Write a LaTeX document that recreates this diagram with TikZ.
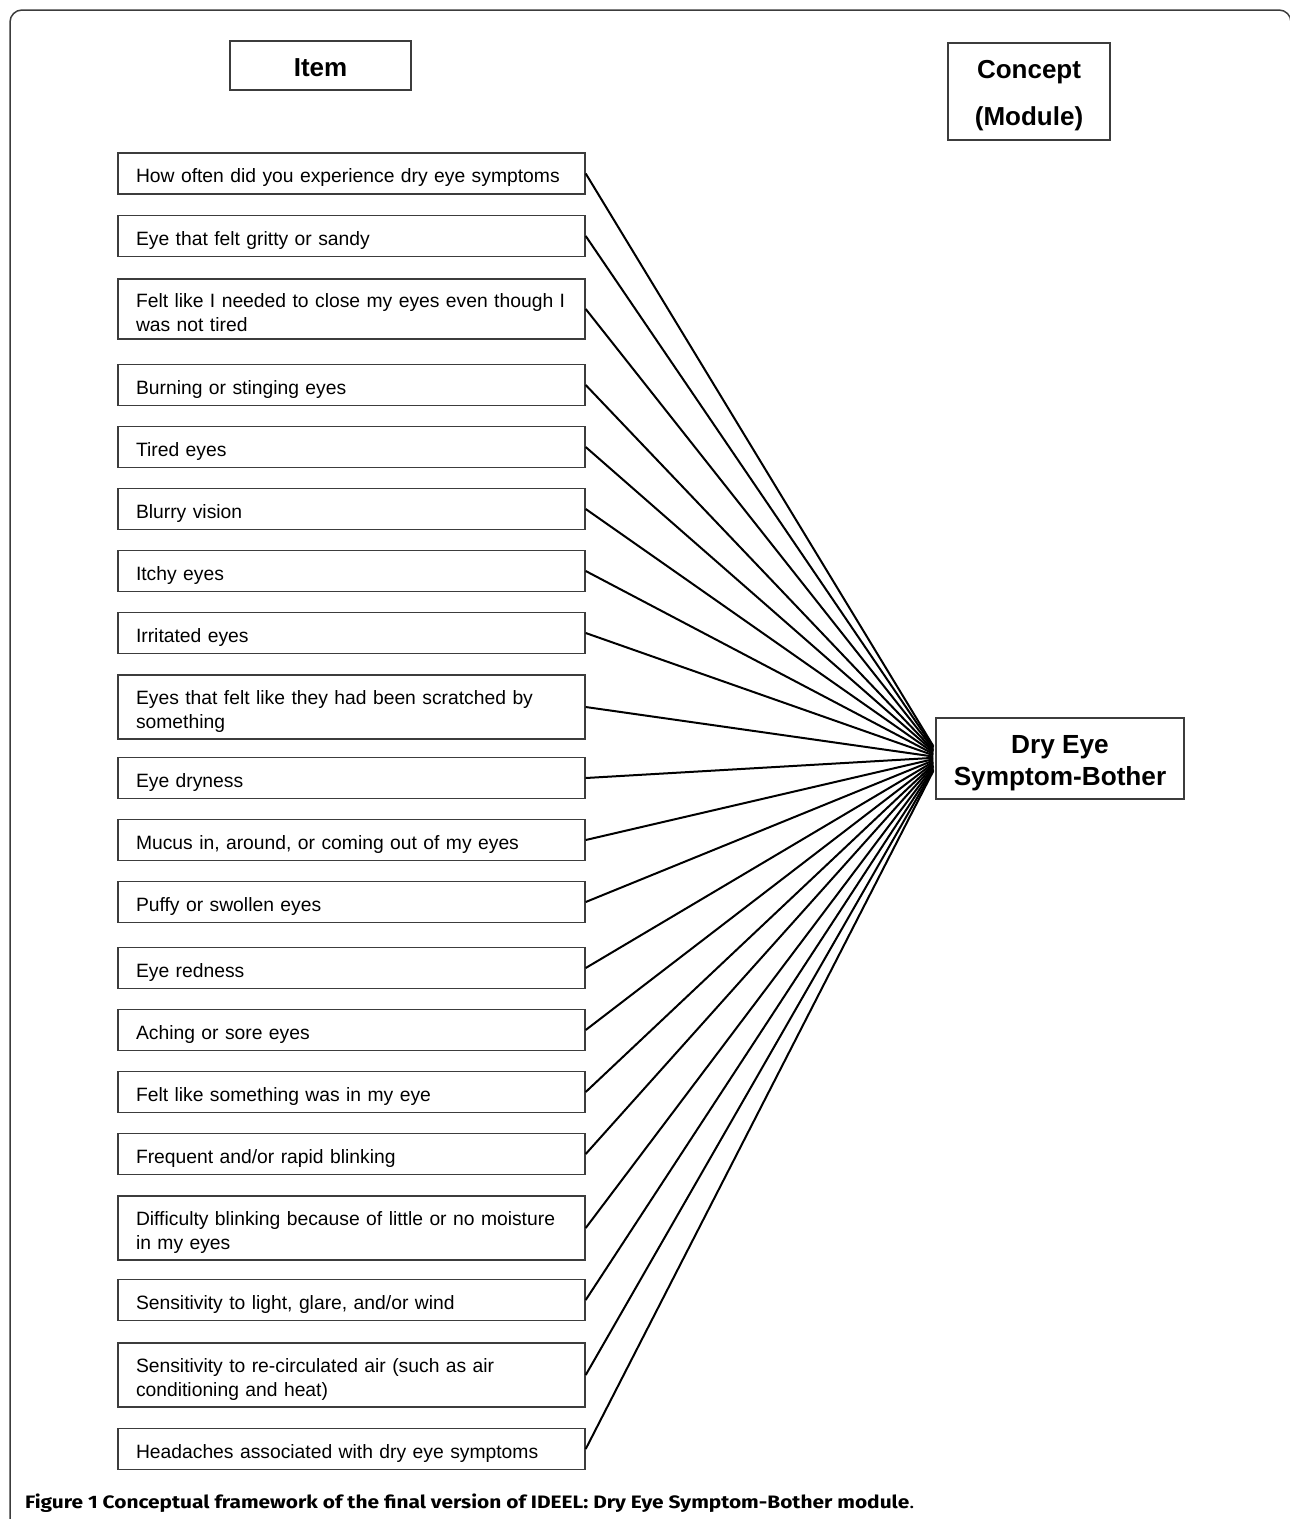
\documentclass[tikz,border=0pt]{standalone}
\usepackage{fontspec}
\setmainfont{Liberation Sans}
\newfontfamily\captionfont[FakeStretch=1.16]{Fira Sans}
\usetikzlibrary{calc}
\definecolor{boxgray}{HTML}{3C3C3C}

\begin{document}
\begin{tikzpicture}[x=1pt, y=-1pt,
	item/.style={draw=boxgray, line width=1.4pt, text width=431pt, inner xsep=18pt,
		inner ysep=7pt, minimum height=41pt, align=left,
		font=\fontsize{19.3}{24}\selectfont,
		execute at begin node=\rule{0pt}{22pt}},
	head/.style={draw=boxgray, line width=1.4pt, align=center, inner sep=0pt},
	link/.style={line width=2pt}]
	\useasboundingbox (0,0) rectangle (1290,1519);

	% outer frame
	\draw
		[boxgray, line width=1.5pt, rounded corners=12pt] (10,1540) -- (10,10) -- (1291,10) -- (1291,1540);

	% headers
	\node
		[head, minimum width=181pt, minimum height=49pt, font=\fontsize{26}{30}\bfseries\selectfont]
		(itemhead) at (320.5,65.5) {\rule{0pt}{23pt}Item};
	\node
		[head, minimum width=162pt, minimum height=97pt, font=\fontsize{26}{47}\bfseries\selectfont]
		(concepthead) at (1029,91.5) {\rule{0pt}{27pt}Concept\\(Module)};

	% module
	\node
		[head, minimum width=248pt, minimum height=81pt, font=\fontsize{26.2}{32}\bfseries\selectfont]
		(dryeye) at (1060,758.5) {\rule{0pt}{27pt}Dry Eye\\Symptom-Bother};

	% items
	\foreach \y/\t [count=\i] in {
		173.5/{How often did you experience dry eye symptoms},
		236/{Eye that felt gritty or sandy},
		309/{Felt like I needed to close my eyes even though I\\was not tired},
		385/{Burning or stinging eyes},
		447/{Tired eyes},
		509/{Blurry vision},
		571/{Itchy eyes},
		633/{Irritated eyes},
		707/{Eyes that felt like they had been scratched by\\something},
		778/{Eye dryness},
		840/{Mucus in, around, or coming out of my eyes},
		902/{Puffy or swollen eyes},
		968/{Eye redness},
		1030/{Aching or sore eyes},
		1092/{Felt like something was in my eye},
		1154/{Frequent and/or rapid blinking},
		1228/{Difficulty blinking because of little or no moisture\\in my eyes},
		1300/{Sensitivity to light, glare, and/or wind},
		1375/{Sensitivity to re-circulated air (such as air\\conditioning and heat)},
		1449/{Headaches associated with dry eye symptoms}}
		\node [item] (item\i) at (351.5,\y) {\t};

	% links
	\foreach \i in {1,...,20}{
		\pgfmathsetmacro{\off}{-12.5+(\i-1)*25/19}
		\draw
			[link] (item\i.east) -- ($(dryeye.west)+(-2,\off)$);
	}

	% caption
	\node
		[anchor=base west, inner sep=0pt, font=\captionfont\fontsize{18}{22}\selectfont]
		(caption) at (25,1508) {\textbf{Figure 1 Conceptual framework of the final version of IDEEL: Dry Eye Symptom-Bother module}.};
\end{tikzpicture}
\end{document}
